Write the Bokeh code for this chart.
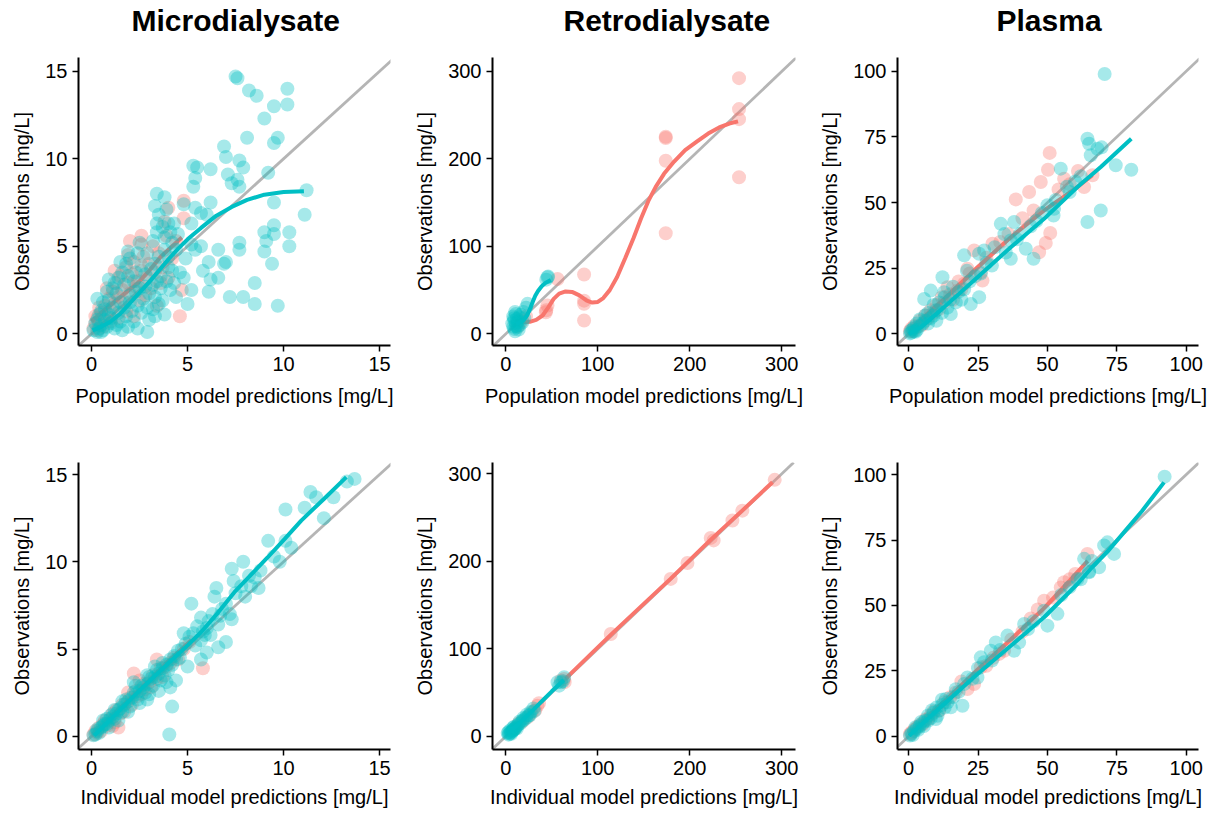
from bokeh.plotting import figure
from bokeh.layouts import column, row
from bokeh.models import Slope, FixedTicker, Range1d, Title
from bokeh.embed import file_html
from bokeh.resources import INLINE

RED = "#F8766D"
TEAL = "#00BFC4"

titles = ["Microdialysate", "Retrodialysate", "Plasma"]
xlabel_pred = "Population model predictions [mg/L]"
xlabel_ipred = "Individual model predictions [mg/L]"
ylabel = "Observations [mg/L]"
ticks_md = [0, 5, 10, 15]
ticks_rd = [0, 100, 200, 300]
ticks_pl = [0, 25, 50, 75, 100]

# ---------- Microdialysate, population predictions (x = PRED, y = observation)
md_pred_teal = [(7.5,14.7),(7.6,14.6),(8.2,13.9),(8.6,13.6),(10.2,14.0),(10.2,13.1),(9.5,13.0),(9.0,12.3),
    (8.1,11.2),(9.7,11.2),(9.5,10.9),(6.9,10.7),(7.0,10.1),(7.7,9.9),(7.9,9.5),(5.3,9.6),(5.5,9.5),(6.2,9.4),
    (7.1,9.1),(7.6,8.8),(7.7,8.4),(7.3,8.6),(9.2,9.2),(11.2,8.2),(11.1,6.8),(9.5,7.5),(5.4,8.9),(5.3,8.4),
    (3.4,8.0),(3.8,7.8),(3.3,7.3),(4.8,7.4),(5.4,7.2),(5.7,6.9),(6.2,7.5),(6.0,6.8),(5.2,6.3),(4.5,5.7),
    (5.2,5.1),(5.7,5.0),(5.4,4.8),(6.6,4.8),(7.0,4.1),(6.9,4.0),(7.7,5.2),(7.7,4.8),(6.1,4.1),(5.8,3.6),
    (6.2,3.1),(6.1,2.4),(5.2,2.5),(5.0,1.7),(4.8,3.2),(7.2,2.1),(7.9,2.1),(8.5,1.7),(8.5,2.9),(6.6,3.2),
    (9.0,5.8),(9.1,5.3),(9.5,6.2),(9.5,5.7),(9.0,4.7),(9.4,4.0),(10.3,5.8),(10.3,5.0),(9.7,1.6),
    (3.4,6.3),(4.0,6.3),(3.7,6.1),(4.3,6.3),(4.1,5.8),(3.4,5.8),(3.8,5.5),(3.2,5.3),(2.9,4.6),(2.4,4.6),
    (1.9,4.7),(1.8,4.0),(3.3,4.0),(3.8,4.8),(4.0,3.8),(4.3,2.9),(4.1,2.5),(3.5,1.7),(3.8,1.1),(3.3,1.0),
    (2.9,0.1),(0.9,3.1),(0.3,2.0),(0.5,1.3),
    (3.6,3.3),(3.2,2.8),(2.8,3.4),(2.5,2.6),(2.2,3.0),(2.0,2.2),(1.7,2.8),(1.5,1.8),(1.3,2.3),(1.1,1.5),
    (0.9,1.1),(0.7,0.8),(0.5,0.5),(0.4,0.3),(0.3,0.1),(0.6,0.2),(0.8,0.4),(1.0,0.6),(1.2,0.3),(1.5,0.7),
    (1.8,1.0),(2.1,1.3),(2.4,1.6),(2.7,2.0),(3.0,2.3),(3.3,2.1),(3.6,2.6),(3.9,3.0),(4.2,3.6),(3.5,4.4),
    (3.1,3.7),(2.6,3.9),(2.3,3.5),(1.9,3.3),(1.6,3.5),(1.2,2.9),(0.8,2.4),(0.6,1.8),(0.4,1.1),(0.2,0.6),
    (0.1,0.2),(1.4,1.2),(1.7,1.5),(2.0,1.8),(2.3,2.4),(2.6,1.2),(2.9,1.5),(3.2,1.4),(2.2,0.7),(1.9,0.4),
    (1.6,0.2),(0.9,1.9),(1.1,2.6),(1.4,3.2),(2.8,2.7),(3.4,3.0),(4.0,4.4),(4.4,4.8),(2.5,5.2),(2.0,4.3),
    (1.5,4.1),(0.7,1.4),(0.3,0.8),(1.0,0.9),(1.3,0.5),(0.5,0.1),(2.4,0.3),(3.0,0.8),(3.7,1.9),(4.4,2.1),
    (4.6,3.5),(4.9,4.3),(4.2,5.2),(3.9,7.1),(3.5,6.8)]
md_pred_red = [(4.8,7.6),(4.8,6.6),(4.6,1.0),(4.7,2.5),(2.6,5.1),(2.6,5.6),(4.0,7.2),(3.9,5.6),(1.9,4.5),
    (0.1,0.3),(0.2,0.6),(0.3,0.9),(0.4,0.5),(0.5,1.2),(0.6,0.8),(0.7,1.6),(0.8,1.1),(0.9,2.0),(1.0,1.4),
    (1.1,2.4),(1.2,1.7),(1.3,2.9),(1.4,2.1),(1.5,3.3),(1.6,2.5),(1.7,1.8),(1.8,3.8),(1.9,2.9),(2.0,2.3),
    (2.1,3.4),(2.2,4.1),(2.3,2.7),(2.4,3.0),(2.5,1.9),(2.6,3.6),(2.7,4.4),(2.8,2.2),(2.9,3.2),(3.0,4.0),
    (3.1,2.6),(3.2,5.0),(3.3,3.5),(3.4,1.6),(3.5,4.6),(3.6,2.9),(3.7,3.8),(3.8,6.4),(4.0,3.2),(4.2,4.3),
    (4.4,5.3),(0.3,0.2),(0.6,0.4),(1.0,0.7),(1.4,0.9),(1.8,1.3),(2.2,1.0),(0.2,1.0),(0.4,1.5),(0.8,2.6),
    (1.2,3.6),(2.0,5.3)]
md_pred_teal_smooth = [(0.05,0.2),(0.5,0.4),(1.0,0.7),(1.5,1.15),(2.0,1.75),(2.5,2.35),(3.0,2.95),(3.5,3.6),
    (4.0,4.25),(4.5,4.85),(5.0,5.4),(5.7,6.05),(6.5,6.75),(7.3,7.25),(8.1,7.65),(9.0,7.95),(10.0,8.1),
    (11.06,8.15)]
md_pred_red_smooth = [(0.0,0.7),(0.5,1.2),(1.0,1.65),(1.5,2.1),(2.0,2.55),(2.4,2.9),(3.0,3.6),(3.6,4.4),
    (4.2,5.0),(4.7,5.5)]

# ---------- Retrodialysate, population predictions
rd_pred_red = [(253.6,292.4),(253.6,257),(253.6,245.5),(253.6,179),(173.9,225.4),(173.9,224),(173.9,198),
    (173.9,115),(85.1,67.8),(85.1,38),(85.1,34.3),(85.1,15.2),(56.2,62.8),(45.3,32.4),(43.5,24.7),(44,27),
    (18,15),(22,20),(13,9)]
rd_pred_teal = [(45.3,64.7),(44,62),(46,65.5),(23.6,34.3),(22,30),(10.9,22.8),(9.1,15.2),(12.7,7.6),
    (18.1,13.3),(9,5.7),(14.5,19),(10,25),(8,20),(12,17),(15,10),(11,12),(8,8),(10,3),(13,14),(16,22),
    (20,18),(7,12),(9,18),(11,9),(14,5),(19,25)]
rd_pred_red_smooth = [(15,14),(20,13.5),(26,13.8),(33,16),(40,21),(46,30),(52,40),(58,46),(65,48.5),
    (72,48),(80,44),(88,38),(94,35.8),(100,36.5),(106,41),(113,50),(121,65),(130,87),(139,110),(147,132),
    (155,152),(163,168),(172,183),(183,197),(195,210),(208,220),(220,229),(232,236),(243,240.5),(252.5,243)]
rd_pred_teal_smooth = [(10.9,11.4),(14,12.5),(17,14),(20,16.5),(23,21),(26,28),(29,36),(32,43.5),(35,49),
    (39,54.5),(43,58.2),(48.9,61.5)]

# ---------- Plasma, population predictions
pl_pred_teal = [(70.6,98.9),(64.4,74.3),(65,72.4),(68,70.5),(69.5,71),(65.6,68),(74.6,64.2),(80.2,62.5),
    (69.2,47),(64.4,42.6),(54.8,62.9),(52.4,47.6),(52.2,45.1),(45,28.6),(42.2,32.4),(36.8,28.6),(33.2,41.9),
    (38,42.6),(36.8,35.6),(34.5,38),(27.2,31.8),(25.4,30.5),(20,29.9),(25.4,14),(22.4,11.4),(12.2,21.6),
    (12.8,15.9),(15.2,7.6),(8,16.5),(5.6,13.3),(60,58),(57,56),(48,46),(44,41),(40,38),(30,26),(28,27),
    (24,22),(22,20),(20,17),(18,16),(17,12),(15,13),(14,10),(11,12),(10,9),(9,7),(8,6),(7,8),(6,5),(5,4),
    (4,3),(3,4),(2,1),(1,0.5),(0.5,0.2),(2,2.5),(3,1.5),(4,5.5),(6,7),(7,4),(9,11),(10,5),(12,8),(13,14),
    (16,18),(19,13),(21,24),(26,23),(31,33),(35,31),(39,36),(46,43),(50,49),(53,51),(58,54),(62,60),
    (1.5,1.8),(0.8,1.2),(2.5,0.8)]
pl_pred_red = [(50.8,68.9),(50.2,62.5),(47.6,57.8),(43.4,54),(38.6,51.2),(51,38.4),(49.4,34.6),(47,31.1),
    (63.2,55.9),(66.2,60.4),(56,59.1),(30.2,34.3),(23.6,31.8),(26,23.5),(26.6,20.3),(21.2,24.8),(20,19.1),
    (17.6,16.5),(14,17.8),(0.5,1),(1,2),(1.5,1),(2,3),(3,2.5),(4,5),(5,3.5),(6,7),(7,6),(8,9),(9,8),(10,11),
    (11,9.5),(12,14),(13,12),(15,15),(16,13),(18,20),(19,17),(22,23),(28,29),(33,35),(36,38),(41,44),
    (45,47),(54,55),(58,57),(61,62)]
pl_pred_teal_smooth = [(0.2,0),(4.4,2.5),(12.8,10.2),(24.8,21.6),(36.8,33),(48.8,43.8),(60.8,55.9),
    (69.2,63.5),(80.2,74.3)]
pl_pred_red_smooth = [(0.2,1.3),(12.8,13.3),(24.8,25.4),(36.8,36.8),(48.8,47),(60.8,55.9),(66.2,60.4)]

# ---------- Microdialysate, individual predictions
md_ipred_teal = [(13.7,14.75),(13.3,14.6),(11.4,14.0),(11.7,13.7),(11.1,13.1),(10.1,13.0),(12.1,12.5),
    (12.6,13.7),(9.2,11.2),(10.1,11.2),(10.4,10.8),(7.3,9.6),(7.9,10.0),(8.8,9.5),(8.5,9.1),(8.7,8.5),
    (7.4,8.9),(6.5,8.5),(6.4,8.0),(5.2,7.6),(7.3,6.7),(5.7,6.8),(4.8,5.9),(5.7,5.5),(7.0,5.4),(5.7,4.4),
    (5.0,4.0),(4.1,2.8),(4.2,1.7),(4.05,0.1),(4.0,3.8),(3.7,4.2),(2.2,3.1),(2.9,2.1),
    (9.5,10.3),(9.8,10.0),(8.2,9.2),(7.8,8.6),(7.5,8.2),(7.0,7.6),(6.8,7.3),(6.6,6.4),(6.3,7.0),(6.1,6.6),
    (6.0,6.2),(5.9,5.8),(5.5,6.3),(5.3,5.9),(5.1,5.7),(4.9,5.3),(4.7,5.0),(4.5,4.9),(4.3,4.6),(4.1,4.4),
    (3.9,4.1),(3.7,3.9),(3.5,3.6),(3.3,3.4),(3.1,3.3),(2.9,3.0),(2.7,2.8),(2.5,2.6),(2.3,2.4),(2.1,2.2),
    (1.9,2.0),(1.7,1.8),(1.5,1.6),(1.3,1.3),(1.1,1.1),(0.9,0.9),(0.7,0.7),(0.5,0.5),(0.3,0.3),(0.2,0.1),
    (0.4,0.2),(0.6,0.6),(0.8,0.7),(1.0,1.2),(1.2,1.0),(1.4,1.5),(1.6,1.4),(1.8,2.1),(2.0,1.7),(2.2,2.5),
    (2.4,2.1),(2.6,2.9),(2.8,2.5),(3.0,3.4),(3.2,2.9),(3.4,3.8),(3.6,3.2),(3.8,3.5),(4.2,4.1),(4.4,4.4),
    (4.6,4.5),(5.4,5.2),(5.8,6.0),(6.2,5.8),(6.7,6.9),(3.5,2.6),(3.9,3.1),(4.4,3.2),(6.0,4.8),(6.6,5.1),
    (7.2,7.0),(8.0,8.0),(8.3,8.6),(3.0,2.4),(2.5,1.9),(1.9,1.4),(1.4,0.9),(0.9,0.5),(1.6,2.0),(2.3,2.9),
    (2.9,3.5),(3.3,4.0),(1.2,1.5),(0.8,1.0),(0.6,0.9),(0.3,0.4),(0.1,0.05)]
md_ipred_red = [(5.8,3.9),(3.4,4.4),(2.2,3.6),(1.4,0.5),(0.1,0.1),(0.2,0.3),(0.4,0.5),(0.5,0.3),(0.7,0.9),
    (0.8,0.6),(1.0,1.0),(1.1,1.3),(1.2,0.8),(1.3,1.5),(1.5,1.3),(1.6,1.8),(1.7,1.4),(1.8,1.9),(2.0,2.2),
    (2.1,1.8),(2.3,2.6),(2.4,2.3),(2.6,2.4),(2.7,3.0),(2.8,2.7),(3.0,3.1),(3.1,2.8),(3.2,3.5),(3.4,3.3),
    (3.6,3.9),(3.7,3.4),(3.9,4.0),(4.1,4.2),(4.3,4.5),(4.5,4.4),(4.8,5.0),(5.1,5.4),(1.9,2.5),(2.5,3.2),
    (0.6,0.7),(0.3,0.2),(1.1,0.6)]
md_ipred_teal_smooth = [(0.14,0.04),(1.2,1.2),(2.23,2.33),(3.1,3.25),(3.97,4.15),(4.85,5.05),(5.7,5.96),
    (6.6,7.1),(7.44,8.26),(8.3,9.25),(9.18,10.26),(10.05,11.3),(10.92,12.36),(12.1,13.6),(13.27,14.85)]
md_ipred_red_smooth = [(0.05,0.1),(1.0,1.1),(2.0,2.15),(3.0,3.2),(4.0,4.3),(5.2,5.5)]

# ---------- Retrodialysate, individual predictions
rd_ipred_red = [(292.4,293.2),(257.2,258),(246.4,246.7),(222.8,226.8),(226,224),(197.5,198.2),(179.3,180),
    (114.1,117),(63.4,65.6),(34.4,35.1),(32,30),(36,38),(28,27),(24,22),(18,17),(14,15),(10,9),(64,62),(60,64)]
rd_ipred_teal = [(63.4,67.5),(56.2,61.8),(60,62),(58,58),(62,63),(30,32),(27,28),(25,24),(22,21),(20,19),
    (18,18),(16,15),(14,14),(12,12),(11,10),(10,9),(9,8),(8,7),(7,6),(6,5),(5,4),(4,3),(3,2),(2,4),(5,7),
    (8,10),(12,9),(15,17),(19,21),(23,25),(26,24),(31,29),(3,5),(6,3),(9,11)]
rd_ipred_red_smooth = [(65,66),(114,116),(179,180),(222,224),(257,258),(290,290.5)]
rd_ipred_teal_smooth = [(2,3),(10,10.5),(20,20.5),(30,30.5),(40,41),(50,51.5),(63,64.5)]

# ---------- Plasma, individual predictions
pl_ipred_teal = [(92.2,99.2),(71.6,74.1),(70.4,72.9),(74,69.7),(68.6,64.6),(65,62.7),(63.2,67.8),(60.8,60.1),
    (53.6,46.8),(50,42.3),(48.8,48),(41.6,42.9),(39.8,35.9),(38,32.7),(35.6,38.5),(31.4,35.9),(29.6,32.7),
    (26,30.2),(27.2,28.3),(24.8,22.5),(21.2,22.5),(19.4,11.7),(15.2,11.1),(13.4,14.3),(10.4,7.9),(9.8,6.6),
    (66,67),(58,57),(55,54),(45,44),(43,41),(33,33),(30,29),(25,26),(23,22),(20,20),(18,17),(17,18),(16,15),
    (14,13),(12,12),(11,10),(10,11),(9,9),(8,7),(7,8),(6,6),(5,5),(4,4),(3,3),(2,2),(1,1),(0.5,0.3),
    (1.5,0.5),(2.5,3.5),(3.5,2.5),(4.5,5.5),(5.5,4),(7,6),(8.5,10),(12,14),(13,11),(62,60),(65,63)]
pl_ipred_red = [(64.4,69.7),(56,58.9),(54.8,56.9),(48.8,51.8),(46.5,48.5),(34.4,32.7),(32.6,31.5),(30.5,30),
    (26,26.4),(23.6,20),(21.2,18.1),(19,21),(17,16.8),(12.8,13),(11,9.8),(52,53),(44,45),(41,40),(37,37),
    (28,27),(15,15),(9,9.5),(8,8),(7,6.5),(6,6.5),(5,4.5),(4,4.5),(3,3.5),(2,2.5),(1,1.5),(0.5,0.8),
    (60,62),(58,60)]
pl_ipred_teal_smooth = [(0.2,0.25),(12.8,12.4),(24.8,23.8),(36.8,34.6),(48.8,45.5),(60.8,58.2),(66,64.5),
    (72,71),(78,78.5),(84,86),(88,91.5),(92,97)]
pl_ipred_red_smooth = [(0.2,0.9),(12.8,13.3),(24.8,25.5),(36.8,37),(48.8,49),(58,59.5),(64.5,67)]

FONT = "Liberation Sans"
# left edge of each title, in pixels from the left edge of its plot frame
title_offset = [53, 71, 99]


def xs(pts):
    return [p[0] for p in pts]


def ys(pts):
    return [p[1] for p in pts]


def panel(title, toff, xlabel, ticks, xr, yr, red, teal, red_s, teal_s, width, height, borders, xstand):
    left, right, top, bottom = borders
    p = figure(width=width, height=height, output_backend="svg", toolbar_location=None,
               x_range=Range1d(*xr), y_range=Range1d(*yr),
               min_border_left=left, min_border_right=right,
               min_border_top=top, min_border_bottom=bottom)
    p.background_fill_color = "white"
    p.border_fill_color = "white"
    p.outline_line_color = None
    p.xgrid.visible = False
    p.ygrid.visible = False
    if title:
        # spacer (closest to the frame) pushes the real title upwards
        p.add_layout(Title(text=" ", text_font=FONT, text_font_size="12px", standoff=5), "above")
        p.add_layout(Title(text=title, text_font=FONT, text_font_size="30px", text_font_style="bold",
                           text_color="black", align="left", offset=toff, standoff=0), "above")
    p.xaxis.axis_label = xlabel
    p.yaxis.axis_label = ylabel
    for ax in (p.xaxis, p.yaxis):
        ax.ticker = FixedTicker(ticks=ticks)
        ax.major_label_text_font = FONT
        ax.major_label_text_font_size = "20px"
        ax.major_label_text_color = "black"
        ax.axis_label_text_font = FONT
        ax.axis_label_text_font_size = "20px"
        ax.axis_label_text_font_style = "normal"
        ax.axis_label_text_color = "black"
        ax.axis_line_color = "black"
        ax.axis_line_width = 2
        ax.major_tick_line_color = "black"
        ax.major_tick_line_width = 1.5
        ax.major_tick_out = 6
        ax.major_tick_in = 0
        ax.minor_tick_out = 0
        ax.minor_tick_in = 0
        ax.major_label_standoff = 5
    p.xaxis.axis_label_standoff = xstand
    p.yaxis.axis_label_standoff = 9

    p.add_layout(Slope(gradient=1, y_intercept=0, line_color="#B5B5B5", line_width=2.8, level="underlay"))
    p.scatter(xs(red), ys(red), size=14, fill_color=RED, fill_alpha=0.35, line_color=None)
    p.line(xs(red_s), ys(red_s), line_color=RED, line_width=4)
    p.scatter(xs(teal), ys(teal), size=14, fill_color=TEAL, fill_alpha=0.35, line_color=None)
    p.line(xs(teal_s), ys(teal_s), line_color=TEAL, line_width=4)
    return p


TOP_H = 413
BOT_H = 402
TB = (57, 68)
BB = (49, 66)
p1 = panel(titles[0], title_offset[0], xlabel_pred, ticks_md, (-0.68, 15.57), (-0.67, 15.79), md_pred_red,
           md_pred_teal, md_pred_red_smooth, md_pred_teal_smooth, 405, TOP_H, (78, 15) + TB, 11)
p2 = panel(titles[1], title_offset[1], xlabel_pred, ticks_rd, (-14.5, 315), (-13.3, 316), rd_pred_red,
           rd_pred_teal, rd_pred_red_smooth, rd_pred_teal_smooth, 405, TOP_H, (87, 15) + TB, 11)
p3 = panel(titles[2], title_offset[2], xlabel_pred, ticks_pl, (-4.0, 104.4), (-4.4, 105.2), pl_pred_red,
           pl_pred_teal, pl_pred_red_smooth, pl_pred_teal_smooth, 406, TOP_H, (87, 18) + TB, 11)
p4 = panel(None, 0, xlabel_ipred, ticks_md, (-0.68, 15.57), (-0.76, 15.69), md_ipred_red, md_ipred_teal,
           md_ipred_red_smooth, md_ipred_teal_smooth, 405, BOT_H, (78, 15) + BB, 8)
p5 = panel(None, 0, xlabel_ipred, ticks_rd, (-14.5, 315), (-15, 313), rd_ipred_red, rd_ipred_teal,
           rd_ipred_red_smooth, rd_ipred_teal_smooth, 405, BOT_H, (87, 15) + BB, 8)
p6 = panel(None, 0, xlabel_ipred, ticks_pl, (-4.0, 104.4), (-5.0, 104.6), pl_ipred_red, pl_ipred_teal,
           pl_ipred_red_smooth, pl_ipred_teal_smooth, 406, BOT_H, (87, 18) + BB, 8)

layout = column(row(p1, p2, p3), row(p4, p5, p6))
open("out.html", "w").write(file_html(layout, INLINE))
